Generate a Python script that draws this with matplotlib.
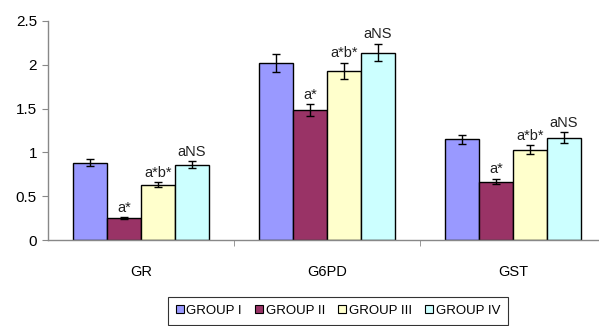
import matplotlib
matplotlib.use("Agg")
import matplotlib.pyplot as plt
import numpy as np

categories = ["GR", "G6PD", "GST"]
groups = ["GROUP I", "GROUP II", "GROUP III", "GROUP IV"]
values = {
    "GROUP I":   [0.88, 2.02, 1.15],
    "GROUP II":  [0.25, 1.48, 0.665],
    "GROUP III": [0.63, 1.93, 1.03],
    "GROUP IV":  [0.86, 2.14, 1.17],
}
errors = {
    "GROUP I":   [0.04, 0.10, 0.05],
    "GROUP II":  [0.01, 0.07, 0.03],
    "GROUP III": [0.03, 0.09, 0.05],
    "GROUP IV":  [0.04, 0.10, 0.06],
}
annotations = {
    "GROUP I":   ["", "", ""],
    "GROUP II":  ["a*", "a*", "a*"],
    "GROUP III": ["a*b*", "a*b*", "a*b*"],
    "GROUP IV":  ["aNS", "aNS", "aNS"],
}
colors = ["#9999FF", "#993366", "#FFFFCC", "#CCFFFF"]

plt.rcParams['font.family'] = ['Liberation Sans', 'DejaVu Sans']

fig = plt.figure(figsize=(5.99, 3.26), dpi=100)
ax = fig.add_axes([48/599, 1-240/326, 558/599, 219/326])

x = np.arange(len(categories))
w = 0.183
for i, g in enumerate(groups):
    pos = x + (i - 1.5) * w
    ax.bar(pos, values[g], width=w, color=colors[i], edgecolor="black", linewidth=1.0, zorder=2)
    ax.errorbar(pos, values[g], yerr=errors[g], fmt="none", ecolor="black",
                elinewidth=1.0, capsize=3, capthick=1.0, zorder=3)
    for p, v, e, t in zip(pos, values[g], errors[g], annotations[g]):
        if t:
            ax.text(p, v + e + 0.03, t, ha="center", va="bottom", fontsize=10.5,
                    color="#222222")

ax.set_xlim(-0.5, 2.5)
ax.set_ylim(0, 2.5)
ax.set_yticks([0, 0.5, 1, 1.5, 2, 2.5])
ax.set_yticklabels(["0", "0.5", "1", "1.5", "2", "2.5"], fontsize=11)
ax.set_xticks(x)
ax.set_xticklabels(categories, fontsize=10.5)
ax.tick_params(axis="x", which="major", length=0, pad=18)
ax.set_xticks([0.5, 1.5], minor=True)
ax.tick_params(axis="x", which="minor", length=4, color="#888888")
ax.tick_params(axis="y", length=4, color="#888888", pad=4)

for s in ["top", "right"]:
    ax.spines[s].set_visible(False)
for s in ["left", "bottom"]:
    ax.spines[s].set_color("#888888")
    ax.spines[s].set_linewidth(1.0)

handles = [plt.Rectangle((0, 0), 1, 1, facecolor=c, edgecolor="black", linewidth=0.8) for c in colors]
leg = fig.legend(handles, groups, loc="upper left", bbox_to_anchor=(168/599, 1-297/326),
                 ncol=4, fontsize=9.5, frameon=True, fancybox=False, edgecolor="black",
                 handlelength=0.6, handleheight=0.6, handletextpad=0.2, columnspacing=1.0,
                 borderpad=0.6, borderaxespad=0)
leg.get_frame().set_linewidth(0.8)

fig.savefig("out.png", dpi=100)
